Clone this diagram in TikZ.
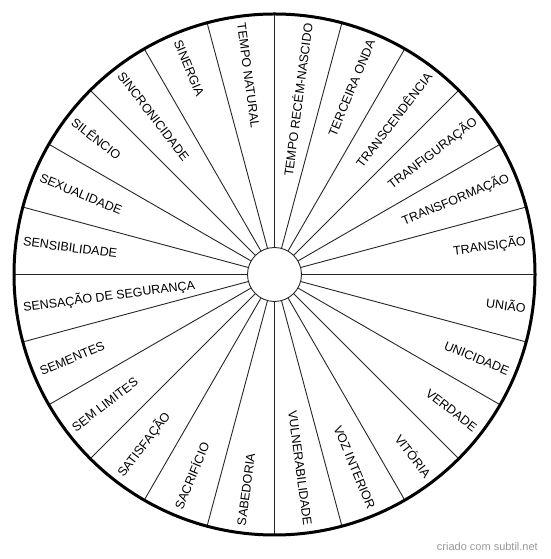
\documentclass[tikz,border=0pt]{standalone}
\usepackage{fontspec}
\setmainfont{Liberation Sans}
\begin{document}
\begin{tikzpicture}[x=1pt,y=1pt,
  spoke/.style={draw=black!85, line width=0.9pt},
  rim/.style={draw=black, line width=3pt},
  lbl/.style={font=\fontsize{12.5}{14}\selectfont, inner sep=0pt},
  credittext/.style={font=\fontsize{11}{13}\selectfont, text=black!40, inner sep=0pt}]
\useasboundingbox (0,0) rectangle (550,559);
\coordinate (c) at (274.5,284.5);
\foreach \i in {0,...,23} {
  \coordinate (in\i) at ([shift={(\i*15:27)}]c);
  \coordinate (out\i) at ([shift={(\i*15:260)}]c);
  \draw[spoke] (in\i) -- (out\i);
}
\node[circle, spoke, fill=white, minimum size=54pt, inner sep=0pt] (hub) at (c) {};
\draw[rim] (c) circle (260.5);
\foreach \a/\t [count=\i] in {7.5/TRANSIÇÃO, 22.5/TRANSFORMAÇÃO, 37.5/TRANFIGURAÇÃO,
  52.5/TRANSCENDÊNCIA, 67.5/TERCEIRA ONDA, 82.5/TEMPO RECÉM-NASCIDO,
  277.5/VULNERABILIDADE, 292.5/VOZ INTERIOR, 307.5/VITÓRIA, 322.5/VERDADE,
  337.5/UNICIDADE, 352.5/UNIÃO} {
  \node[lbl, rotate=\a, anchor=east] (r\i) at ([shift={(\a:253.5)}]c) {\t};
}
\foreach \a/\t [count=\i] in {97.5/TEMPO NATURAL, 112.5/SINERGIA, 127.5/SINCRONICIDADE,
  142.5/SILÊNCIO, 157.5/SEXUALIDADE, 172.5/SENSIBILIDADE,
  187.5/SENSAÇÃO DE SEGURANÇA, 202.5/SEMENTES, 217.5/SEM LIMITES,
  232.5/SATISFAÇÃO, 247.5/SACRIFÍCIO, 262.5/SABEDORIA} {
  \node[lbl, rotate=\a-180, anchor=west] (l\i) at ([shift={(\a:253.5)}]c) {\t};
}
\node[credittext, anchor=east] (credit) at (538,12) {criado com subtil.net};
\end{tikzpicture}
\end{document}
